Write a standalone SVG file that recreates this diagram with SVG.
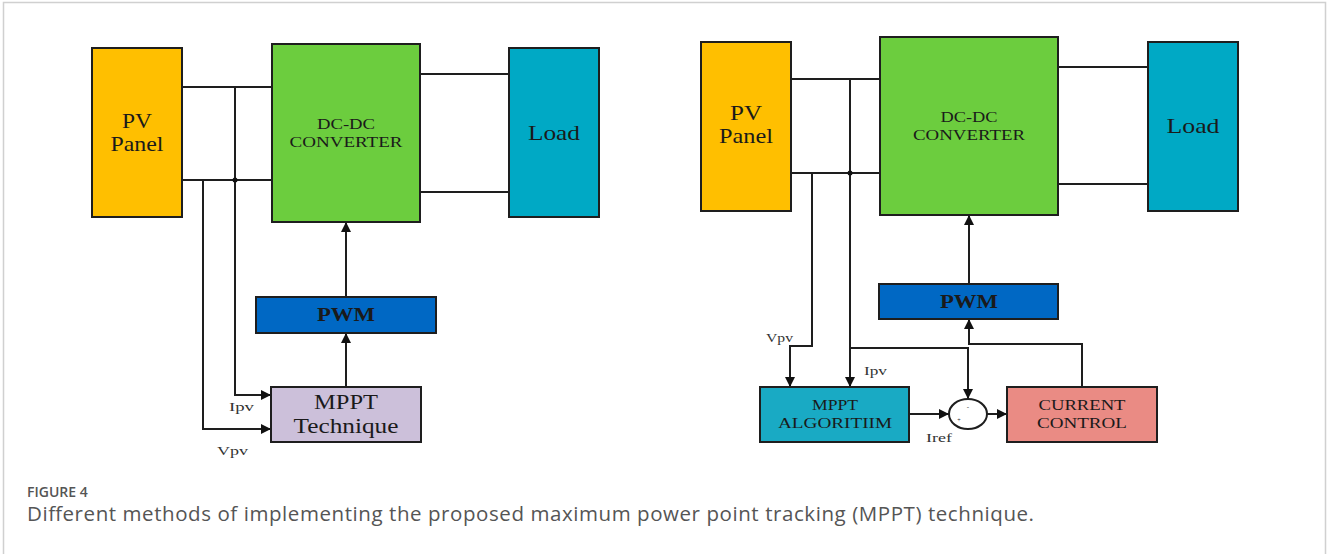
<svg xmlns="http://www.w3.org/2000/svg" width="1327" height="554" viewBox="0 0 1327 554">
  <defs>
    <marker id="arrow" viewBox="0 0 10 10" refX="10" refY="5" markerWidth="11" markerHeight="10" markerUnits="userSpaceOnUse" orient="auto">
      <path d="M0,0 L10,5 L0,10 Z" fill="#111"/>
    </marker>
  </defs>
  <style>
    .box { stroke: #1e1e1e; stroke-width: 2; }
    .wire { fill: none; stroke: #1e1e1e; stroke-width: 2; }
    .lbl { font-family: "Liberation Serif", "Times New Roman", serif; fill: #1a1a1a; text-anchor: middle; }
    .sig { font-family: "Liberation Serif", "Times New Roman", serif; fill: #333; font-size: 13px; }
    .cap { font-family: "Open Sans", "Liberation Sans", sans-serif; fill: #555; }
  </style>

  <rect x="0" y="0" width="1327" height="554" fill="#fff"/>
  <path d="M3.5,560 V2.5 H1325.5 V560" fill="none" stroke="#d0d0d0" stroke-width="1.5"/>

  <!-- Left scheme: MPPT technique drives PWM directly -->
  <g id="connectors-left">
    <path class="wire" d="M182,87 H272 M182,180 H272 M420,74 H509 M420,192 H509"/>
    <path class="wire" d="M235,87 V395 H271" marker-end="url(#arrow)"/>
    <path class="wire" d="M203,180 V429 H271" marker-end="url(#arrow)"/>
    <circle cx="235" cy="180" r="2.5" fill="#111"/>
    <path class="wire" d="M346,297 V222" marker-end="url(#arrow)"/>
    <path class="wire" d="M346,387 V333" marker-end="url(#arrow)"/>
    <text class="sig" x="229" y="411" textLength="25" lengthAdjust="spacingAndGlyphs">Ipv</text>
    <text class="sig" x="217" y="455" textLength="31" lengthAdjust="spacingAndGlyphs">Vpv</text>
  </g>
  <g id="pv-left">
    <rect class="box" x="92" y="48" width="90" height="169" fill="#FFBF00"/>
    <text class="lbl" x="137" y="128" font-size="21" textLength="30" lengthAdjust="spacingAndGlyphs">PV</text>
    <text class="lbl" x="137" y="151" font-size="21" textLength="53" lengthAdjust="spacingAndGlyphs">Panel</text>
  </g>
  <g id="converter-left">
    <rect class="box" x="272" y="44" width="148" height="178" fill="#6CCD3E"/>
    <text class="lbl" x="346" y="129" font-size="15" textLength="58" lengthAdjust="spacingAndGlyphs">DC-DC</text>
    <text class="lbl" x="346" y="147" font-size="15" textLength="113" lengthAdjust="spacingAndGlyphs">CONVERTER</text>
  </g>
  <g id="load-left">
    <rect class="box" x="509" y="48" width="90" height="169" fill="#00A9C5"/>
    <text class="lbl" x="554" y="140" font-size="21" textLength="52" lengthAdjust="spacingAndGlyphs">Load</text>
  </g>
  <g id="pwm-left">
    <rect class="box" x="256" y="297" width="180" height="36" fill="#0068C4"/>
    <text class="lbl" x="346" y="321" font-size="18" font-weight="bold" fill="#0a1a33" textLength="58" lengthAdjust="spacingAndGlyphs">PWM</text>
  </g>
  <g id="mppt-technique">
    <rect class="box" x="271" y="387" width="150" height="55" fill="#CCC0DA"/>
    <text class="lbl" x="346" y="409" font-size="20" textLength="64" lengthAdjust="spacingAndGlyphs">MPPT</text>
    <text class="lbl" x="346" y="433" font-size="20" textLength="105" lengthAdjust="spacingAndGlyphs">Technique</text>
  </g>

  <!-- Right scheme: MPPT algorithm sets a current reference for a current loop -->
  <g id="connectors-right">
    <path class="wire" d="M791,79 H880 M791,173 H880 M1058,67 H1148 M1058,184 H1148"/>
    <path class="wire" d="M812,173 V346 H790 V387" marker-end="url(#arrow)"/>
    <path class="wire" d="M850,79 V387" marker-end="url(#arrow)"/>
    <path class="wire" d="M850,348 H968 V399" marker-end="url(#arrow)"/>
    <circle cx="850" cy="173" r="2.5" fill="#111"/>
    <path class="wire" d="M969,284 V215" marker-end="url(#arrow)"/>
    <path class="wire" d="M909,414 H949" marker-end="url(#arrow)"/>
    <path class="wire" d="M987,414 H1007" marker-end="url(#arrow)"/>
    <path class="wire" d="M1082,387 V344 H969 V319" marker-end="url(#arrow)"/>
    <text class="sig" x="766" y="342" textLength="27" lengthAdjust="spacingAndGlyphs">Vpv</text>
    <text class="sig" x="864" y="375" textLength="23" lengthAdjust="spacingAndGlyphs">Ipv</text>
    <text class="sig" x="926" y="442" textLength="26" lengthAdjust="spacingAndGlyphs">Iref</text>
  </g>
  <g id="pv-right">
    <rect class="box" x="701" y="42" width="90" height="169" fill="#FFBF00"/>
    <text class="lbl" x="746" y="120" font-size="21" textLength="32" lengthAdjust="spacingAndGlyphs">PV</text>
    <text class="lbl" x="746" y="143" font-size="21" textLength="54" lengthAdjust="spacingAndGlyphs">Panel</text>
  </g>
  <g id="converter-right">
    <rect class="box" x="880" y="37" width="178" height="178" fill="#6CCD3E"/>
    <text class="lbl" x="969" y="122" font-size="15" textLength="57" lengthAdjust="spacingAndGlyphs">DC-DC</text>
    <text class="lbl" x="969" y="140" font-size="15" textLength="112" lengthAdjust="spacingAndGlyphs">CONVERTER</text>
  </g>
  <g id="load-right">
    <rect class="box" x="1148" y="42" width="90" height="169" fill="#00A9C5"/>
    <text class="lbl" x="1193" y="133" font-size="21" textLength="53" lengthAdjust="spacingAndGlyphs">Load</text>
  </g>
  <g id="pwm-right">
    <rect class="box" x="879" y="284" width="179" height="35" fill="#0068C4"/>
    <text class="lbl" x="969" y="308" font-size="18" font-weight="bold" fill="#0a1a33" textLength="58" lengthAdjust="spacingAndGlyphs">PWM</text>
  </g>
  <g id="mppt-algorithm">
    <rect class="box" x="760" y="387" width="149" height="55" fill="#19AAC4"/>
    <text class="lbl" x="835" y="410" font-size="15" textLength="46" lengthAdjust="spacingAndGlyphs">MPPT</text>
    <text class="lbl" x="835" y="428" font-size="15" textLength="114" lengthAdjust="spacingAndGlyphs">ALGORITIIM</text>
  </g>
  <g id="summing-junction">
    <ellipse class="box" cx="968" cy="414" rx="19" ry="15" fill="#fff"/>
    <text class="lbl" x="968" y="409" font-size="7" fill="#666">-</text>
    <text class="lbl" x="959" y="422" font-size="6" fill="#666">+</text>
  </g>
  <g id="current-control">
    <rect class="box" x="1007" y="387" width="150" height="55" fill="#EA8B84"/>
    <text class="lbl" x="1082" y="410" font-size="15" textLength="87" lengthAdjust="spacingAndGlyphs">CURRENT</text>
    <text class="lbl" x="1082" y="428" font-size="15" textLength="90" lengthAdjust="spacingAndGlyphs">CONTROL</text>
  </g>

  <!-- Caption -->
  <g id="caption">
    <text class="cap" x="27" y="497" font-size="14" font-weight="600" fill="#666">FIGURE 4</text>
    <text class="cap" x="27" y="521" font-size="20.5" fill="#555" textLength="1007" lengthAdjust="spacing">Different methods of implementing the proposed maximum power point tracking (MPPT) technique.</text>
  </g>
</svg>
